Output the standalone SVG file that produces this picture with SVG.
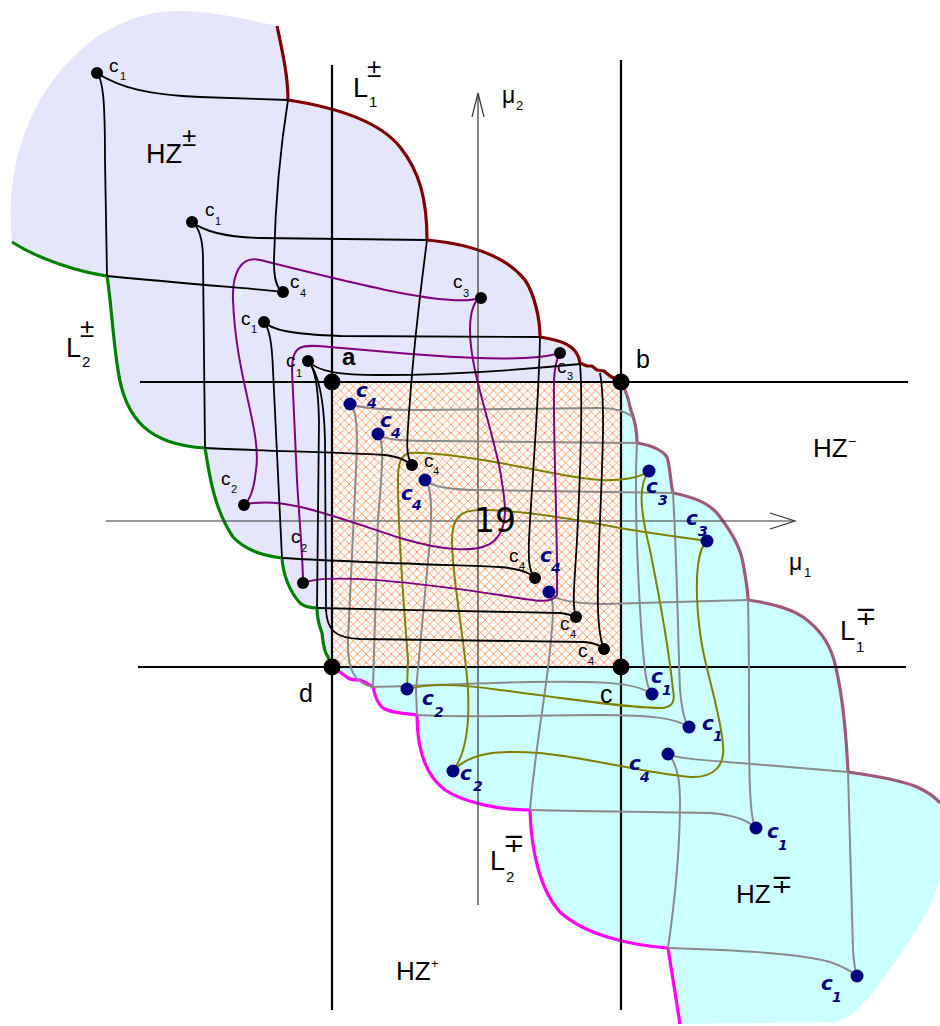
<svg xmlns="http://www.w3.org/2000/svg" width="940" height="1026" viewBox="0 0 940 1026">
<defs>
<pattern id="hatch" x="332" y="382" width="8.5" height="8.5" patternUnits="userSpaceOnUse">
<path d="M0,0 L8.5,8.5 M8.5,0 L0,8.5" stroke="#ff8848" stroke-width="0.85" fill="none"/>
</pattern>
<style>
.blk{fill:none;stroke:#000;stroke-width:1.8}
.gry{fill:none;stroke:#8a8a8a;stroke-width:2}
.olv{fill:none;stroke:#808000;stroke-width:2}
.pur{fill:none;stroke:#800080;stroke-width:2}
.main{stroke:#000;stroke-width:2.2;fill:none}
.axis{stroke:#333;stroke-width:1.2;fill:none}
.bnd{fill:none;stroke-width:3.2;stroke-linejoin:round}
.bd{fill:#000}
.nd{fill:#000080}
.cd{fill:#000}
.t{font-family:'Liberation Sans',Arial,'DejaVu Sans',sans-serif;fill:#000}
.cb{font-family:'Liberation Sans',Arial,sans-serif;font-size:19px;fill:#000}
.cs{font-family:'Liberation Sans',Arial,sans-serif;font-size:11px;fill:#000}
.nv{font-family:'DejaVu Sans',sans-serif;font-weight:bold;font-style:italic;fill:#000080;font-size:20px}
.nvs{font-family:'DejaVu Sans',sans-serif;font-weight:bold;font-style:italic;fill:#000080;font-size:14px}
</style>
</defs>

<g id="regions">
<path id="hz-pm" fill="#e5e5fc" d="M12,242 C8,200 12,150 40,100 C70,50 110,20 160,12 C200,8 240,18 277,26 C282,50 288,75 288,100 C340,108 380,122 400,147 C420,172 427,200 427,240 C470,244 505,255 525,280 C535,295 540,320 540,337 C560,340 578,345 580,363 L587,366 L592,366 L597,370 L604,371 L610,376 L621,382 L332,667 L328,657 C323,650 323,640 322,633 C320,628 317,618 317,608 C310,608 305,607 300,603 C290,592 283,575 282,558 C265,556 245,550 233,537 C215,510 210,480 205,448 C150,445 125,420 118,370 C113,340 111,300 107,276 C80,272 40,260 12,242 Z"/>
<path id="hz-mp" fill="#ccffff" d="M621,382 C625,390 628,395 630,407 C632,415 637,422 637,443 C650,445 662,450 667,457 C670,465 670,480 673,493 C695,497 712,505 720,517 C730,530 740,545 743,563 C746,580 748,590 748,600 C770,603 790,608 803,617 C818,628 828,640 834,660 C842,690 846,730 848,772 C870,775 900,780 917,787 C928,792 935,797 940,803 L940,877 C930,920 895,960 873,993 C860,1008 850,1018 835,1022 L680,1024 L668,948 C630,945 585,935 560,912 C540,890 531,850 530,810 C500,810 465,803 445,790 C425,775 417,750 417,715 C400,713 390,712 383,708 C378,704 375,697 373,687 C370,685 366,682 360,680 C356,680 352,680 348,678 L340,672 C338,672 336,670 332,667 Z"/>
<rect id="hatched" x="332" y="382" width="289" height="285" fill="#fff"/>
<rect x="332" y="382" width="289" height="285" fill="url(#hatch)"/>
</g>

<g id="boundaries">
<path id="L1pm" class="bnd" stroke="#800000" d="M277,26 C282,50 288,75 288,100 C340,108 380,122 400,147 C420,172 427,200 427,240 C470,244 505,255 525,280 C535,295 540,320 540,337 C560,340 578,345 580,363 L587,366 L592,366 L597,370 L604,371 L610,376 L621,382"/>
<path id="L2pm" class="bnd" stroke="#008000" d="M12,242 C40,260 80,272 107,276 C111,300 113,340 118,370 C125,420 150,445 205,448 C210,480 215,510 233,537 C245,550 265,556 282,558 C283,575 290,592 300,603 C305,607 310,608 317,608 C317,618 320,628 322,633 C323,640 323,650 328,657 L332,667"/>
<path id="L1mp" class="bnd" stroke="#a0587a" d="M621,382 C625,390 628,395 630,407 C632,415 637,422 637,443 C650,445 662,450 667,457 C670,465 670,480 673,493 C695,497 712,505 720,517 C730,530 740,545 743,563 C746,580 748,590 748,600 C770,603 790,608 803,617 C818,628 828,640 834,660 C842,690 846,730 848,772 C870,775 900,780 917,787 C928,792 935,797 940,803"/>
<path id="L2mp" class="bnd" stroke="#ff00ff" d="M332,667 C336,670 338,672 340,672 L348,678 C352,680 356,680 360,680 C366,682 370,685 373,687 C375,697 378,704 383,708 C390,712 400,713 417,715 C417,750 425,775 445,790 C465,803 500,810 530,810 C531,850 540,890 560,912 C585,935 630,945 668,948 L680,1024"/>
</g>

<g id="lines">
<line class="main" x1="332" y1="65" x2="332" y2="1010"/>
<line class="main" x1="621" y1="60" x2="621" y2="1010"/>
<line class="main" x1="140" y1="382" x2="908" y2="382"/>
<line class="main" x1="138" y1="667" x2="906" y2="667"/>
<line class="axis" x1="106" y1="521" x2="794" y2="521"/>
<path class="axis" stroke-width="2" d="M770,513 L795,521 L770,529"/>
<line class="axis" x1="478" y1="905" x2="478" y2="94"/>
<path class="axis" stroke-width="2" d="M472,117 L478,93 L484,117"/>
</g>

<g id="connectors">
<path class="gry" d="M350,404 C360,408 380,410 420,410 L600,408 C615,408 625,411 633,417"/>
<path class="gry" d="M350,404 C357,410 358,430 356,470 L348,640 C347,670 355,684 373,687"/>
<path class="gry" d="M378,434 C385,440 400,441 440,441 L637,443"/>
<path class="gry" d="M378,434 C385,442 382,470 378,520 L373,687"/>
<path class="gry" d="M425,480 C432,487 450,490 480,490 L673,493"/>
<path class="gry" d="M425,480 C432,487 432,510 430,540 L416,690 L417,715"/>
<path class="gry" d="M549,592 C555,600 570,603 603,604 L748,600"/>
<path class="gry" d="M549,592 C555,600 553,620 550,650 C545,700 535,750 530,810"/>
<path class="gry" d="M637,443 C634,500 638,580 642,640 C645,675 647,688 652,694"/>
<path class="gry" d="M373,687 C420,686 470,683 530,682 C600,681 635,682 652,694"/>
<path class="gry" d="M673,493 C677,560 678,640 680,690 C682,710 684,720 689,727"/>
<path class="gry" d="M417,715 C470,718 530,715 600,715 C650,715 675,718 689,727"/>
<path class="gry" d="M748,600 C750,680 748,740 750,790 C751,810 752,820 755,828"/>
<path class="gry" d="M530,810 C600,812 680,812 710,813 C735,815 748,820 755,828"/>
<path class="gry" d="M848,772 C850,850 852,920 853,950 C854,965 855,970 857,976"/>
<path class="gry" d="M668,948 C730,950 800,953 830,962 C845,967 852,972 857,976"/>
<path class="gry" d="M668,754 C675,758 700,760 740,763 L848,772"/>
<path class="gry" d="M668,754 C676,762 680,775 680,800 C680,850 675,900 668,948"/>

<path class="olv" d="M649,471 C640,478 620,481 600,480 C570,478 540,470 500,463 C460,456 430,452 410,453 C400,455 398,465 398,480 C398,540 405,620 408,660 L407,689"/>
<path class="olv" d="M407,689 C430,683 460,684 500,690 C560,698 620,707 660,708 C674,708 675,700 673,690 C670,660 660,600 650,550 C640,510 638,485 649,471"/>
<path class="olv" d="M707,541 C690,538 660,535 620,528 C570,518 520,510 480,510 C460,510 452,518 452,540 C452,580 465,640 468,690 C470,730 465,755 453,771"/>
<path class="olv" d="M453,771 C470,752 500,750 540,753 C590,758 640,772 690,777 C715,778 725,765 723,745 C721,720 712,690 705,660 C698,630 695,590 698,565 C700,550 703,545 707,541"/>

<path class="pur" d="M480,298 C450,308 360,285 260,260 C240,255 232,275 233,300 C236,380 262,430 256,470 C254,490 250,500 244,505"/>
<path class="pur" d="M244,505 C280,495 330,515 400,538 C440,550 480,555 495,540 C510,525 505,500 500,470 C490,420 470,370 470,330 C470,310 475,300 480,298"/>
<path class="pur" d="M560,353 C520,365 420,355 330,347 C300,344 292,345 292,370 L297,480 C300,530 303,560 303,583"/>
<path class="pur" d="M303,583 C330,572 420,583 500,595 C530,600 552,605 557,595 C558,540 553,440 554,380 C555,365 558,356 560,353"/>

<path class="blk" d="M97,73 C120,88 150,95 200,97 L288,100"/>
<path class="blk" d="M97,73 C103,80 105,100 105,160 L107,276"/>
<path class="blk" d="M283,292 C276,288 274,278 274,262 C275,210 280,150 288,100"/>
<path class="blk" d="M283,292 C270,290 200,285 107,276"/>
<path class="blk" d="M192,222 C205,232 225,237 260,238 L427,240"/>
<path class="blk" d="M192,222 C200,228 203,240 203,260 L205,448"/>
<path class="blk" d="M427,240 C422,280 415,330 410,400 C407,440 405,455 412,465"/>
<path class="blk" d="M205,448 C260,451 340,452 385,455 C400,457 405,460 412,465"/>
<path class="blk" d="M264,322 C272,330 290,334 340,336 L540,337"/>
<path class="blk" d="M264,322 C270,330 272,345 273,370 L282,558"/>
<path class="blk" d="M540,337 C539,400 532,480 529,540 C528,565 530,572 535,578"/>
<path class="blk" d="M282,558 C350,562 450,565 500,567 C520,569 530,572 535,578"/>
<path class="blk" d="M308,361 C318,372 340,375 380,375 C450,375 520,370 580,364"/>
<path class="blk" d="M308,361 C315,368 318,385 319,420 L317,608"/>
<path class="blk" d="M308,361 C318,372 324,400 325,440 L326,610 C327,630 335,638 360,639 L585,642 C595,643 600,645 604,649"/>
<path class="blk" d="M580,364 C583,400 581,460 577,540 C574,590 572,605 576,617"/>
<path class="blk" d="M317,608 C400,610 520,612 560,613 C568,614 572,615 576,617"/>
<path class="blk" d="M600,373 C605,400 603,450 600,520 C597,590 596,630 604,649"/>
</g>

<g id="corner-a"><circle class="bd" cx="332" cy="382" r="8.5"/><text class="t" x="342" y="365" font-size="24" font-weight="bold">a</text></g>
<g id="corner-b"><circle class="bd" cx="621" cy="382" r="8.5"/><text class="t" x="636" y="368" font-size="25">b</text></g>
<g id="corner-c"><circle class="bd" cx="621" cy="667" r="8.5"/><text class="t" x="600" y="703" font-size="25">c</text></g>
<g id="corner-d"><circle class="bd" cx="332" cy="667" r="8.5"/><text class="t" x="299" y="702" font-size="25">d</text></g>

<g id="n-c1-a"><circle class="cd" cx="97" cy="73" r="6"/><text class="cb" x="109" y="72">c</text><text class="cs" x="120" y="80">1</text></g>
<g id="n-c1-b"><circle class="cd" cx="192" cy="222" r="6"/><text class="cb" x="205" y="216">c</text><text class="cs" x="215" y="225">1</text></g>
<g id="n-c4-a"><circle class="cd" cx="283" cy="292" r="6"/><text class="cb" x="290" y="288">c</text><text class="cs" x="300" y="297">4</text></g>
<g id="n-c1-c"><circle class="cd" cx="264" cy="322" r="6"/><text class="cb" x="241" y="325">c</text><text class="cs" x="251" y="333">1</text></g>
<g id="n-c1-d"><circle class="cd" cx="308" cy="361" r="6"/><text class="cb" x="286" y="367">c</text><text class="cs" x="296" y="377">1</text></g>
<g id="n-c3-a"><circle class="cd" cx="481" cy="298" r="6"/><text class="cb" x="453" y="288">c</text><text class="cs" x="463" y="297">3</text></g>
<g id="n-c3-b"><circle class="cd" cx="560" cy="353" r="6"/><text class="cb" x="557" y="373">c</text><text class="cs" x="567" y="380">3</text></g>
<g id="n-c4-b"><circle class="cd" cx="412" cy="465" r="6"/><text class="cb" x="424" y="467">c</text><text class="cs" x="433" y="475">4</text></g>
<g id="n-c2-a"><circle class="cd" cx="244" cy="505" r="6"/><text class="cb" x="221" y="485">c</text><text class="cs" x="231" y="493">2</text></g>
<g id="n-c2-b"><circle class="cd" cx="303" cy="583" r="6"/><text class="cb" x="291" y="543">c</text><text class="cs" x="301" y="552">2</text></g>
<g id="n-c4-c"><circle class="cd" cx="535" cy="578" r="6"/><text class="cb" x="509" y="562">c</text><text class="cs" x="519" y="570">4</text></g>
<g id="n-c4-d"><circle class="cd" cx="576" cy="617" r="6"/><text class="cb" x="560" y="630">c</text><text class="cs" x="570" y="638">4</text></g>
<g id="n-c4-e"><circle class="cd" cx="604" cy="649" r="6"/><text class="cb" x="578" y="657">c</text><text class="cs" x="588" y="665">4</text></g>

<g id="m-c4-a"><circle class="nd" cx="350" cy="404" r="6.5"/><text class="nv" x="356" y="397">c</text><text class="nvs" x="367" y="408">4</text></g>
<g id="m-c4-b"><circle class="nd" cx="378" cy="434" r="6.5"/><text class="nv" x="380" y="427">c</text><text class="nvs" x="391" y="438">4</text></g>
<g id="m-c4-c"><circle class="nd" cx="425" cy="480" r="6.5"/><text class="nv" x="401" y="500">c</text><text class="nvs" x="412" y="510">4</text></g>
<g id="m-c4-d"><circle class="nd" cx="549" cy="592" r="6.5"/><text class="nv" x="540" y="562">c</text><text class="nvs" x="551" y="573">4</text></g>
<g id="m-c3-a"><circle class="nd" cx="649" cy="471" r="6.5"/><text class="nv" x="646" y="493">c</text><text class="nvs" x="658" y="505">3</text></g>
<g id="m-c3-b"><circle class="nd" cx="707" cy="541" r="6.5"/><text class="nv" x="686" y="525">c</text><text class="nvs" x="698" y="536">3</text></g>
<g id="m-c1-a"><circle class="nd" cx="652" cy="694" r="6.5"/><text class="nv" x="651" y="683">c</text><text class="nvs" x="662" y="695">1</text></g>
<g id="m-c1-b"><circle class="nd" cx="689" cy="727" r="6.5"/><text class="nv" x="702" y="730">c</text><text class="nvs" x="713" y="741">1</text></g>
<g id="m-c4-e"><circle class="nd" cx="668" cy="754" r="6.5"/><text class="nv" x="629" y="770">c</text><text class="nvs" x="640" y="782">4</text></g>
<g id="m-c2-a"><circle class="nd" cx="407" cy="689" r="6.5"/><text class="nv" x="422" y="705">c</text><text class="nvs" x="434" y="717">2</text></g>
<g id="m-c2-b"><circle class="nd" cx="453" cy="771" r="6.5"/><text class="nv" x="460" y="780">c</text><text class="nvs" x="473" y="791">2</text></g>
<g id="m-c1-c"><circle class="nd" cx="756" cy="828" r="6.5"/><text class="nv" x="767" y="838">c</text><text class="nvs" x="778" y="850">1</text></g>
<g id="m-c1-d"><circle class="nd" cx="857" cy="976" r="6.5"/><text class="nv" x="821" y="990">c</text><text class="nvs" x="832" y="1002">1</text></g>

<g id="labels">
<text class="t" x="353" y="97" font-size="27">L</text><text class="t" x="367" y="77" font-size="26">±</text><text class="t" x="369" y="107" font-size="15">1</text>
<text class="t" x="66" y="357" font-size="27">L</text><text class="t" x="80" y="337" font-size="26">±</text><text class="t" x="82" y="367" font-size="15">2</text>
<text class="t" x="146" y="163" font-size="27">HZ</text><text class="t" x="182" y="146" font-size="26">±</text>
<text class="t" x="502" y="103" font-size="23">μ</text><text class="t" x="516" y="110" font-size="13">2</text>
<text class="t" x="813" y="457" font-size="26">HZ</text><text class="t" x="848" y="446" font-size="14">−</text>
<text x="474" y="532" font-family="'DejaVu Sans',sans-serif" font-size="33" fill="#000">19</text>
<text class="t" x="789" y="570" font-size="23">μ</text><text class="t" x="804" y="577" font-size="13">1</text>
<text class="t" x="840" y="640" font-size="27">L</text><text class="t" x="855" y="625" font-size="26">∓</text><text class="t" x="856" y="652" font-size="15">1</text>
<text class="t" x="490" y="870" font-size="27">L</text><text class="t" x="503" y="852" font-size="26">∓</text><text class="t" x="506" y="882" font-size="15">2</text>
<text class="t" x="736" y="903" font-size="26">HZ</text><text class="t" x="771" y="893" font-size="26">∓</text>
<text class="t" x="396" y="980" font-size="26">HZ</text><text class="t" x="431" y="968" font-size="13">+</text>
</g>
</svg>
